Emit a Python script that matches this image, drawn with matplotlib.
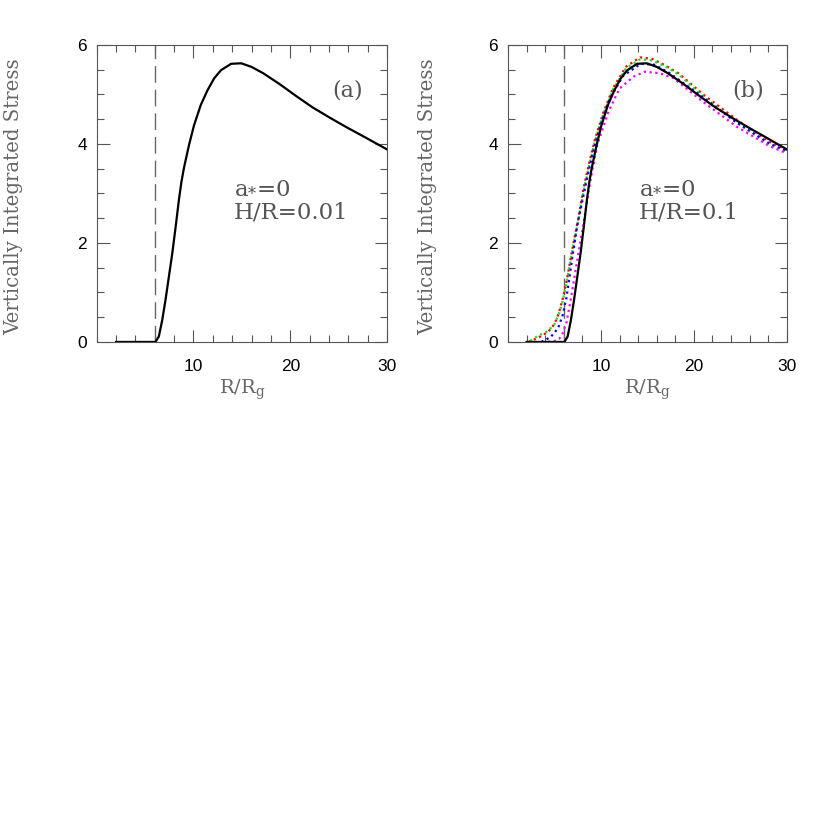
import numpy as np
import matplotlib
matplotlib.use("Agg")
import matplotlib.pyplot as plt
from matplotlib.ticker import MultipleLocator

# solid curve (zero-torque at ISCO), same shape in both panels
r_solid = [2.0, 4.0, 5.9, 6.07, 6.42, 6.77, 7.11, 7.46, 7.81, 8.16, 8.5, 8.76, 9.02, 9.54,
           10.06, 10.76, 11.46, 12.15, 12.84, 13.89, 14.93, 15.97, 17.2, 18.9, 20.6, 22.3,
           24.1, 25.8, 27.5, 30.0]
s_solid = [0.0, 0.0, 0.0, 0.0, 0.11, 0.44, 0.85, 1.32, 1.79, 2.33, 2.88, 3.24, 3.52, 3.98,
           4.38, 4.79, 5.09, 5.33, 5.49, 5.62, 5.63, 5.56, 5.43, 5.21, 4.97, 4.74,
           4.53, 4.34, 4.16, 3.89]

# dotted curves in panel (b)
r_red = [2.2, 3.2, 4.3, 5.0, 5.5, 5.9, 6.3, 6.7, 7.1, 7.55, 8.1, 8.65, 9.35, 10.25,
         11.3, 12.7, 14.2, 15.5, 16.8, 18.4, 21.0, 24.6, 28.2, 30.0]
s_red = [0.0, 0.08, 0.2, 0.36, 0.6, 0.88, 1.22, 1.64, 2.05, 2.48, 3.08, 3.55, 4.09, 4.63,
         5.13, 5.56, 5.75, 5.72, 5.6, 5.42, 5.0, 4.49, 4.04, 3.88]

r_green = [2.4, 3.2, 4.3, 5.0, 5.5, 5.9, 6.3, 6.7, 7.1, 7.55, 8.1, 8.65, 9.35, 10.25,
           11.3, 12.7, 14.2, 15.5, 16.8, 18.4, 21.0, 24.6, 28.2, 30.0]
s_green = [0.02, 0.12, 0.22, 0.36, 0.58, 0.84, 1.2, 1.6, 2.02, 2.45, 3.02, 3.5, 4.05, 4.6,
           5.1, 5.53, 5.71, 5.69, 5.58, 5.4, 4.96, 4.44, 3.99, 3.85]

r_blue = [3.6, 4.6, 5.4, 5.9, 6.3, 6.65, 7.0, 7.5, 8.0, 8.5, 9.1, 9.9, 11.0, 12.4,
          14.3, 15.8, 17.4, 21.0, 24.6, 28.2, 30.0]
s_blue = [0.0, 0.1, 0.28, 0.55, 0.9, 1.35, 1.8, 2.4, 2.85, 3.3, 3.8, 4.35, 4.93, 5.38,
          5.62, 5.6, 5.43, 4.94, 4.43, 4.0, 3.86]

r_mag = [4.3, 5.0, 5.5, 5.9, 6.3, 6.7, 7.1, 7.5, 8.0, 8.45, 8.9, 9.6, 10.8, 12.0,
         13.5, 14.7, 16.3, 17.8, 21.0, 24.6, 28.2, 30.0]
s_mag = [0.0, 0.02, 0.06, 0.18, 0.4, 0.8, 1.25, 1.7, 2.25, 2.77, 3.3, 3.98, 4.65, 5.12,
         5.36, 5.46, 5.43, 5.33, 4.85, 4.35, 3.95, 3.81]

r_isco = 6.0

SERIF = "DejaVu Serif"
GRAY = "#555555"

fig = plt.figure(figsize=(8.3, 8.3), dpi=100)
ax_a = fig.add_axes([0.1165, 0.588, 0.3498, 0.3578])
ax_b = fig.add_axes([0.612, 0.588, 0.336, 0.3578])


def style_axes(ax):
    ax.set_xlim(0, 30)
    ax.set_ylim(0, 6)
    ax.xaxis.set_major_locator(MultipleLocator(10))
    ax.xaxis.set_minor_locator(MultipleLocator(2))
    ax.yaxis.set_major_locator(MultipleLocator(2))
    ax.yaxis.set_minor_locator(MultipleLocator(0.5))
    ax.tick_params(which="both", direction="in", top=True, right=True, color=GRAY,
                   width=0.8)
    ax.tick_params(which="major", length=9)
    ax.tick_params(which="minor", length=4.7)
    ax.tick_params(axis="x", which="major", pad=12)
    ax.tick_params(axis="y", which="major", pad=7)
    ax.set_xticks([10, 20, 30])
    for lab in ax.get_xticklabels() + ax.get_yticklabels():
        lab.set_fontfamily("Liberation Sans")
        lab.set_fontsize(12.5)
    for sp in ax.spines.values():
        sp.set_color(GRAY)
        sp.set_linewidth(0.8)
    ax.set_xlabel(r"R/R$_\mathregular{g}$", family=SERIF, fontsize=14, color="#666666")
    ax.xaxis.set_label_coords(0.5, -0.12)
    ax.set_ylabel("Vertically Integrated Stress", family=SERIF, fontsize=14.2,
                  color="#666666")
    ax.yaxis.set_label_coords(-0.255, 0.49)
    ax.plot([r_isco, r_isco], [0, 6], color="#666666", lw=1.0, dashes=(12, 5))


style_axes(ax_a)
ax_a.plot(r_solid, s_solid, color="black", lw=1.6)
ax_a.text(25.9, 5.09, "(a)", family=SERIF, fontsize=16, color=GRAY,
          ha="center", va="center")
ax_a.text(14.2, 3.0, r"a$_\mathregular{*}$=0", family=SERIF, fontsize=16.5, color=GRAY)
ax_a.text(14.2, 2.5, "H/R=0.01", family=SERIF, fontsize=16.5, color=GRAY)

style_axes(ax_b)
dot = (0, (1, 1.6))
ax_b.plot(r_red, s_red, color="red", lw=1.6, linestyle=dot)
ax_b.plot(r_green, s_green, color="#22dd22", lw=1.6, linestyle=dot)
ax_b.plot(r_blue, s_blue, color="blue", lw=1.6, linestyle=dot)
ax_b.plot(r_mag, s_mag, color="magenta", lw=1.6, linestyle=dot)
ax_b.plot(r_solid, s_solid, color="black", lw=1.6)
ax_b.text(25.8, 5.09, "(b)", family=SERIF, fontsize=16, color=GRAY,
          ha="center", va="center")
ax_b.text(14.1, 3.0, r"a$_\mathregular{*}$=0", family=SERIF, fontsize=16.5, color=GRAY)
ax_b.text(14.1, 2.5, "H/R=0.1", family=SERIF, fontsize=16.5, color=GRAY)

fig.savefig("out.png", dpi=100)
